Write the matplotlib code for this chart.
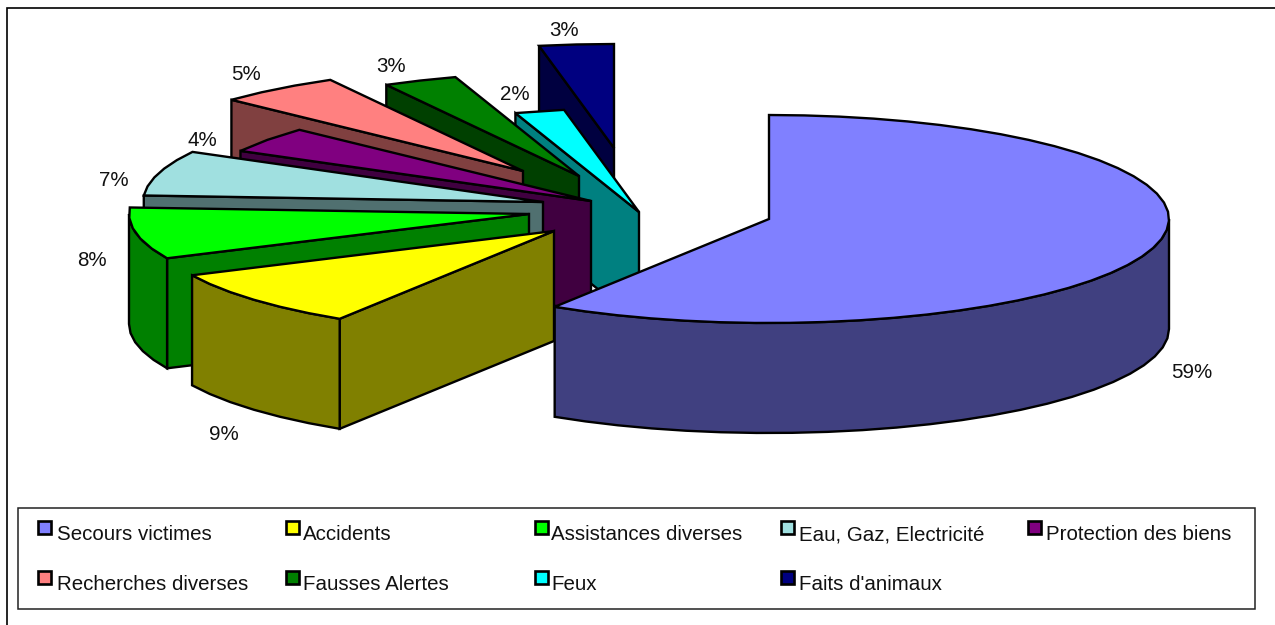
#!/usr/bin/env python3
"""Exploded 3D-look pie chart (Excel style), drawn with polygons in pixel coordinates."""

import numpy as np
import matplotlib
matplotlib.use("Agg")
import matplotlib.pyplot as plt
from matplotlib.patches import Polygon, Rectangle

plt.rcParams['font.family'] = ['Liberation Sans', 'DejaVu Sans']

categories = ['Secours victimes', 'Accidents', 'Assistances diverses',
              'Eau, Gaz, Electricité', 'Protection des biens',
              'Recherches diverses', 'Fausses Alertes', 'Feux', "Faits d'animaux"]
values = [59, 9, 8, 7, 4, 5, 3, 2, 3]
top_colors = ['#8080FF', '#FFFF00', '#00FF00', '#A0E0E0', '#800080',
              '#FF8080', '#008000', '#00FFFF', '#000080']
side_colors = ['#404080', '#808000', '#008000', '#507070', '#400040',
               '#804040', '#004000', '#008080', '#000040']
# how far each slice was pulled out from the pie centre, px
shift_x = [0, -215, -240, -226, -178, -246, -190, -130, -155]
shift_y = [0, 12, -5, -17, -18, -48, -43, -7, -71]
label_xy = [(1192, 372), (224, 434), (92, 260), (114, 180), (202, 140),
            (246, 74), (391, 66), (515, 95), (564, 30)]

CX, CY = 769, 219
RX, RY = 400, 104
DEPTH = 110
LW = 1.7
ARC_STEP = 5
# back to front, main slice last
DRAW_ORDER = [8, 7, 6, 5, 4, 3, 2, 1, 0]
LEGEND_X = [38, 286, 535, 781, 1028]
LEGEND_TEXT_X = [57, 303, 551, 799, 1046]
LEGEND_Y = [535, 585]


def rim(cx, cy, a0, a1):
    # angles in degrees, clockwise from 12 o'clock
    t = np.radians(np.linspace(a0, a1, max(int(abs(a1 - a0) / ARC_STEP), 1) + 1))
    return np.column_stack([cx + RX * np.sin(t), cy - RY * np.cos(t)])


def add_poly(ax, pts, color, z):
    ax.add_patch(Polygon(pts, closed=True, facecolor=color, edgecolor='black',
                         lw=LW, joinstyle='miter', zorder=z))


def draw_slice(ax, i, a0, a1, z):
    cx, cy = CX + shift_x[i], CY + shift_y[i]
    apex = np.array([[cx, cy]])
    down = np.array([0, DEPTH])
    # cut face on the start side, only seen on the left half
    if a0 > 0:
        p = rim(cx, cy, a0, a0)[0]
        add_poly(ax, [apex[0], p, p + down, apex[0] + down], side_colors[i], z)
    # outer wall where the rim faces the viewer
    w0, w1 = max(a0, 90), min(a1, 270)
    if w1 > w0:
        arc = rim(cx, cy, w0, w1)
        add_poly(ax, np.vstack([arc, arc[::-1] + down]), side_colors[i], z)
    add_poly(ax, np.vstack([apex, rim(cx, cy, a0, a1)]), top_colors[i], z)


fig = plt.figure(figsize=(12.75, 6.25), dpi=100)
ax = fig.add_axes([0, 0, 1, 1])
ax.set_xlim(0, 1275)
ax.set_ylim(625, 0)
ax.axis('off')

ax.add_patch(Rectangle((7, 8), 1300, 700, facecolor='white', edgecolor='black', lw=1.2, zorder=0))

edges = np.concatenate([[0], np.cumsum(values)]) * 3.6
for z, i in enumerate(DRAW_ORDER):
    draw_slice(ax, i, edges[i], edges[i + 1], z + 1)

for (x, y), v in zip(label_xy, values):
    ax.text(x, y, f'{v}%', ha='center', va='center', fontsize=14.8, color='#111111', zorder=20)

ax.add_patch(Rectangle((18, 508), 1237, 101, facecolor='white', edgecolor='#222222', lw=1.1, zorder=30))
for k, name in enumerate(categories):
    y = LEGEND_Y[k // 5]
    ax.add_patch(Rectangle((LEGEND_X[k % 5], y - 14), 13, 13, facecolor=top_colors[k],
                           edgecolor='black', lw=1.9, zorder=31))
    ax.text(LEGEND_TEXT_X[k % 5], y, name, ha='left', va='center', fontsize=14.8,
            color='#111111', zorder=31)

plt.savefig('out.png', dpi=100)
plt.close()
